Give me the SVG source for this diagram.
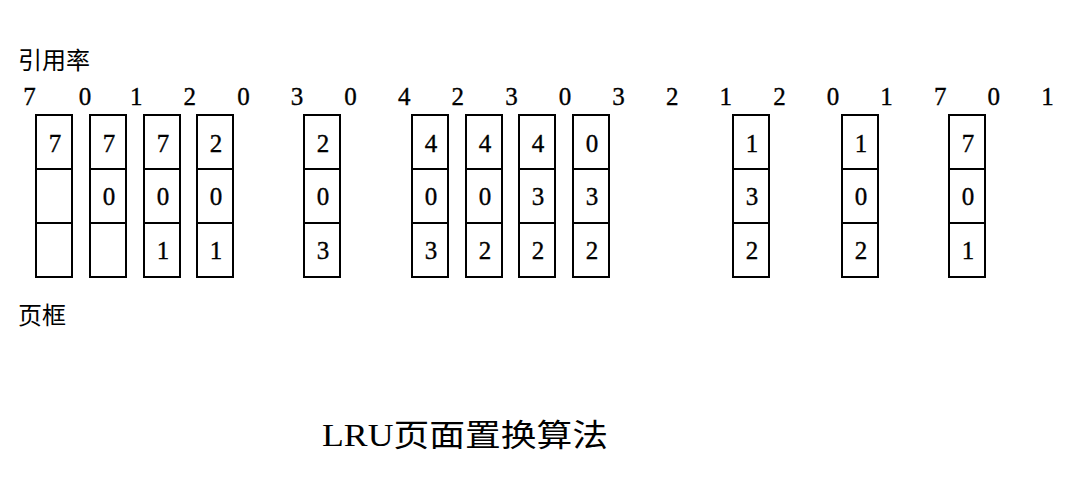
<svg xmlns="http://www.w3.org/2000/svg" width="1074" height="487" viewBox="0 0 1074 487">
<style>
.cjk{font-family:"Noto Sans CJK SC","Noto Sans",sans-serif;font-size:24px;fill:#000}
.ref{font-family:"Liberation Serif","Times New Roman",serif;font-size:25px;fill:#000;stroke:#000;stroke-width:0.35;text-anchor:middle}
.d{font-family:"Liberation Serif","Times New Roman",serif;font-size:25px;fill:#000;stroke:#000;stroke-width:0.35;text-anchor:middle}
.box{fill:#fff;stroke:#000;stroke-width:2}
.sep{stroke:#000;stroke-width:2}
.title{font-family:"Liberation Serif","Noto Sans CJK SC",serif;font-size:31px;fill:#000}
</style>
<defs>
<g id="frame">
<rect class="box" x="0" y="0" width="36" height="162"/>
<line class="sep" x1="0" y1="54" x2="36" y2="54"/>
<line class="sep" x1="0" y1="108" x2="36" y2="108"/>
</g>
</defs>
<rect width="1074" height="487" fill="#fff"/>
<text class="cjk" x="18" y="69">引用率</text>
<g id="refstring">
<text class="ref" x="29.5" y="105">7</text>
<text class="ref" x="85" y="105">0</text>
<text class="ref" x="136.2" y="105">1</text>
<text class="ref" x="189.8" y="105">2</text>
<text class="ref" x="243.4" y="105">0</text>
<text class="ref" x="297" y="105">3</text>
<text class="ref" x="350.6" y="105">0</text>
<text class="ref" x="404.2" y="105">4</text>
<text class="ref" x="457.8" y="105">2</text>
<text class="ref" x="511.4" y="105">3</text>
<text class="ref" x="565" y="105">0</text>
<text class="ref" x="618.6" y="105">3</text>
<text class="ref" x="672.2" y="105">2</text>
<text class="ref" x="725.8" y="105">1</text>
<text class="ref" x="779.4" y="105">2</text>
<text class="ref" x="833" y="105">0</text>
<text class="ref" x="886.6" y="105">1</text>
<text class="ref" x="940.2" y="105">7</text>
<text class="ref" x="993.8" y="105">0</text>
<text class="ref" x="1047.4" y="105">1</text>
</g>
<g id="f0" transform="translate(36,115)"><use href="#frame"/><text class="d" x="19" y="36.5">7</text></g>
<g id="f1" transform="translate(90,115)"><use href="#frame"/><text class="d" x="19" y="36.5">7</text><text class="d" x="19" y="90">0</text></g>
<g id="f2" transform="translate(144,115)"><use href="#frame"/><text class="d" x="19" y="36.5">7</text><text class="d" x="19" y="90">0</text><text class="d" x="19" y="143.5">1</text></g>
<g id="f3" transform="translate(197,115)"><use href="#frame"/><text class="d" x="19" y="36.5">2</text><text class="d" x="19" y="90">0</text><text class="d" x="19" y="143.5">1</text></g>
<g id="f5" transform="translate(304,115)"><use href="#frame"/><text class="d" x="19" y="36.5">2</text><text class="d" x="19" y="90">0</text><text class="d" x="19" y="143.5">3</text></g>
<g id="f7" transform="translate(412,115)"><use href="#frame"/><text class="d" x="19" y="36.5">4</text><text class="d" x="19" y="90">0</text><text class="d" x="19" y="143.5">3</text></g>
<g id="f8" transform="translate(466,115)"><use href="#frame"/><text class="d" x="19" y="36.5">4</text><text class="d" x="19" y="90">0</text><text class="d" x="19" y="143.5">2</text></g>
<g id="f9" transform="translate(519,115)"><use href="#frame"/><text class="d" x="19" y="36.5">4</text><text class="d" x="19" y="90">3</text><text class="d" x="19" y="143.5">2</text></g>
<g id="f10" transform="translate(573,115)"><use href="#frame"/><text class="d" x="19" y="36.5">0</text><text class="d" x="19" y="90">3</text><text class="d" x="19" y="143.5">2</text></g>
<g id="f13" transform="translate(733,115)"><use href="#frame"/><text class="d" x="19" y="36.5">1</text><text class="d" x="19" y="90">3</text><text class="d" x="19" y="143.5">2</text></g>
<g id="f15" transform="translate(842,115)"><use href="#frame"/><text class="d" x="19" y="36.5">1</text><text class="d" x="19" y="90">0</text><text class="d" x="19" y="143.5">2</text></g>
<g id="f17" transform="translate(949,115)"><use href="#frame"/><text class="d" x="19" y="36.5">7</text><text class="d" x="19" y="90">0</text><text class="d" x="19" y="143.5">1</text></g>
<g id="connectors"></g>
<text class="cjk" x="18" y="324">页框</text>
<text class="title" x="322" y="446" textLength="286" lengthAdjust="spacingAndGlyphs">LRU页面置换算法</text>
</svg>
